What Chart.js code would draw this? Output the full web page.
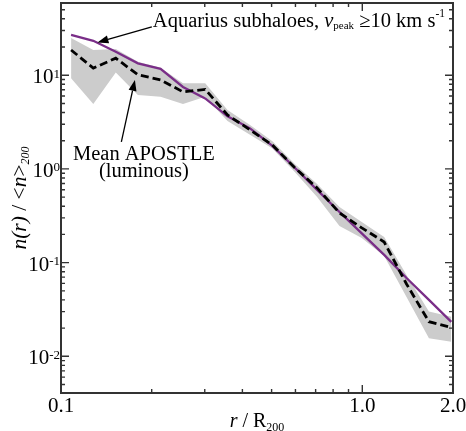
<!DOCTYPE html>
<html><head><meta charset="utf-8">
<script src="https://cdn.jsdelivr.net/npm/chart.js@4.4.0/dist/chart.umd.min.js"></script>
<style>html,body{margin:0;padding:0;background:#fff;}canvas{display:block;}</style>
</head><body>
<canvas id="c" width="466" height="431"></canvas>
<script>
// ---- data ----
const radius      = [0.108, 0.128, 0.152, 0.180, 0.214, 0.254, 0.301, 0.357, 0.424, 0.503, 0.597, 0.708, 0.840, 0.996, 1.182, 1.402, 1.664, 1.974];
const aquarius    = [26.9, 23.3, 17.8, 13.4, 11.7, 7.5, 5.66, 3.64, 2.71, 1.76, 1.03, 0.597, 0.347, 0.205, 0.121, 0.0686, 0.0400, 0.0233];
const apostleMean = [18.6, 11.9, 15.2, 10.1, 8.92, 6.64, 7.06, 3.77, 2.61, 1.80, 1.03, 0.627, 0.339, 0.235, 0.166, 0.0592, 0.0234, 0.0203];
const apostleHigh = [25.0, 18.6, 19.1, 13.9, 12.0, 8.22, 8.22, 4.26, 2.95, 1.97, 1.13, 0.692, 0.393, 0.272, 0.188, 0.0739, 0.0300, 0.0265];
const apostleLow  = [9.30, 4.94, 10.7, 6.17, 5.91, 4.94, 5.91, 3.25, 2.31, 1.65, 0.929, 0.503, 0.246, 0.183, 0.118, 0.0430, 0.0156, 0.0143];

const xTickValues = [0.1, 1, 2];
const xTickLabels = ['0.1', '1.0', '2.0'];
const yTickValues = [0.01, 0.1, 1, 10];
const yTickExponents = ['-2', '-1', '0', '1'];
const xRange = [0.1, 2.0];
const yRange = [0.00406, 59];

const FONT = "'Liberation Serif', 'Times New Roman', serif";
const pts = arr => arr.map((v, i) => ({x: radius[i], y: v}));

function drawRich(ctx, parts, x, y, align) {
  let total = 0;
  parts.forEach(p => { ctx.font = p.f; p.w = ctx.measureText(p.t).width; total += p.w; });
  let cx = align === 'center' ? x - total / 2 : (align === 'right' ? x - total : x);
  ctx.textAlign = 'left'; ctx.textBaseline = 'alphabetic';
  parts.forEach(p => { ctx.font = p.f; ctx.fillText(p.t, cx, y + (p.dy || 0)); cx += p.w; });
}
function arrow(ctx, x0, y0, x1, y1) {
  const ang = Math.atan2(y1 - y0, x1 - x0), L = 11, W = 4;
  const bx = x1 - L * Math.cos(ang), by = y1 - L * Math.sin(ang);
  ctx.beginPath(); ctx.moveTo(x0, y0); ctx.lineTo(bx, by); ctx.lineWidth = 1.3; ctx.stroke();
  ctx.beginPath(); ctx.moveTo(x1, y1);
  ctx.lineTo(bx + W * Math.sin(ang), by - W * Math.cos(ang));
  ctx.lineTo(bx - W * Math.sin(ang), by + W * Math.cos(ang));
  ctx.closePath(); ctx.fill();
}

const frame = {
  id: 'frame',
  afterDraw(chart) {
    const {ctx, chartArea: a, scales: {x, y}} = chart;
    ctx.save();
    ctx.strokeStyle = '#333'; ctx.fillStyle = '#000';
    ctx.lineWidth = 1.4;
    const tick = (v, axis, len) => {
      ctx.beginPath();
      if (axis === 'x') {
        const px = x.getPixelForValue(v);
        ctx.moveTo(px, a.bottom); ctx.lineTo(px, a.bottom - len);
        ctx.moveTo(px, a.top); ctx.lineTo(px, a.top + len);
      } else {
        const py = y.getPixelForValue(v);
        ctx.moveTo(a.left, py); ctx.lineTo(a.left + len, py);
        ctx.moveTo(a.right, py); ctx.lineTo(a.right - len, py);
      }
      ctx.stroke();
    };
    for (let d = 0.1; d < 2; d *= 10) {
      for (let m = 1; m <= 9; m++) {
        const v = m * d;
        if (v > xRange[0] * 0.999 && v < xRange[1] * 0.999) tick(v, 'x', m === 1 ? 8 : 4);
      }
    }
    for (let d = 0.001; d < 100; d *= 10) {
      for (let m = 1; m <= 9; m++) {
        const v = m * d;
        if (v > yRange[0] && v < yRange[1]) tick(v, 'y', m === 1 ? 8 : 4);
      }
    }
    ctx.lineWidth = 2;
    ctx.strokeRect(a.left, a.top, a.right - a.left, a.bottom - a.top);

    ctx.font = '21px ' + FONT; ctx.textAlign = 'center'; ctx.textBaseline = 'alphabetic';
    xTickValues.forEach((v, i) => ctx.fillText(xTickLabels[i], x.getPixelForValue(v), a.bottom + 19));
    yTickValues.forEach((v, i) => {
      const py = y.getPixelForValue(v);
      drawRich(ctx, [{t: '10', f: '21px ' + FONT}, {t: yTickExponents[i], f: '13px ' + FONT, dy: -5.5}], a.left - 1, py + 8, 'right');
    });
    drawRich(ctx, [
      {t: 'r', f: 'italic 20px ' + FONT},
      {t: ' / R', f: '20px ' + FONT},
      {t: '200', f: '12px ' + FONT, dy: 4}
    ], (a.left + a.right) / 2, 427, 'center');
    ctx.save();
    ctx.translate(26, (a.top + a.bottom) / 2);
    ctx.rotate(-Math.PI / 2);
    drawRich(ctx, [
      {t: 'n(r)', f: 'italic 21.5px ' + FONT},
      {t: ' / <', f: '21.5px ' + FONT},
      {t: 'n', f: 'italic 21.5px ' + FONT},
      {t: '>', f: '21.5px ' + FONT},
      {t: '200', f: 'italic 12px ' + FONT, dy: 3}
    ], 0, 0, 'center');
    ctx.restore();

    const P = (vx, vy) => [x.getPixelForValue(vx), y.getPixelForValue(vy)];
    const [t1x, t1y] = P(0.2018, 32.6);
    drawRich(ctx, [
      {t: 'Aquarius subhaloes, ', f: '20.5px ' + FONT},
      {t: 'v', f: 'italic 20.5px ' + FONT},
      {t: 'peak', f: '11px ' + FONT, dy: 2},
      {t: ' \u226510 km s', f: '20.5px ' + FONT},
      {t: '-1', f: '11.5px ' + FONT, dy: -10}
    ], t1x, t1y, 'left');
    ctx.strokeStyle = '#000';
    const [a1x, a1y] = P(0.2002, 32.8), [a1tx, a1ty] = P(0.1321, 22.4);
    arrow(ctx, a1x, a1y, a1tx, a1ty);

    const [m1x, m1y] = P(0.1884, 1.248);
    drawRich(ctx, [{t: 'Mean APOSTLE', f: '20.5px ' + FONT}], m1x, m1y, 'center');
    const [m2x, m2y] = P(0.1884, 0.821);
    drawRich(ctx, [{t: '(luminous)', f: '20.5px ' + FONT}], m2x, m2y, 'center');
    const [a2x, a2y] = P(0.1586, 1.94), [a2tx, a2ty] = P(0.1759, 8.92);
    arrow(ctx, a2x, a2y, a2tx, a2ty);
    ctx.restore();
  }
};

new Chart(document.getElementById('c').getContext('2d'), {
  type: 'line',
  data: {datasets: [
    {label: 'APOSTLE upper', data: pts(apostleHigh), borderWidth: 0, borderColor: 'rgba(0,0,0,0)', pointRadius: 0, fill: '+1', backgroundColor: '#cccccc', order: 3},
    {label: 'APOSTLE lower', data: pts(apostleLow), borderWidth: 0, borderColor: 'rgba(0,0,0,0)', pointRadius: 0, fill: false, order: 4},
    {label: 'Mean APOSTLE (luminous)', data: pts(apostleMean), borderColor: '#000', borderWidth: 2.8, borderDash: [8, 4], pointRadius: 0, fill: false, order: 1},
    {label: 'Aquarius subhaloes', data: pts(aquarius), borderColor: '#7a2e88', borderWidth: 2.3, pointRadius: 0, fill: false, order: 2}
  ]},
  options: {
    responsive: false, animation: false, devicePixelRatio: 1,
    layout: {padding: {left: 0, right: 13, top: 3, bottom: 0}},
    plugins: {legend: {display: false}, tooltip: {enabled: false}, filler: {drawTime: 'beforeDatasetsDraw'}},
    scales: {
      x: {type: 'logarithmic', min: xRange[0], max: xRange[1], grid: {display: false}, border: {display: false}, ticks: {display: false}, afterFit(s) { s.height = 38; }},
      y: {type: 'logarithmic', min: yRange[0], max: yRange[1], grid: {display: false}, border: {display: false}, ticks: {display: false}, afterFit(s) { s.width = 61; }}
    }
  },
  plugins: [frame]
});
</script>
</body></html>
